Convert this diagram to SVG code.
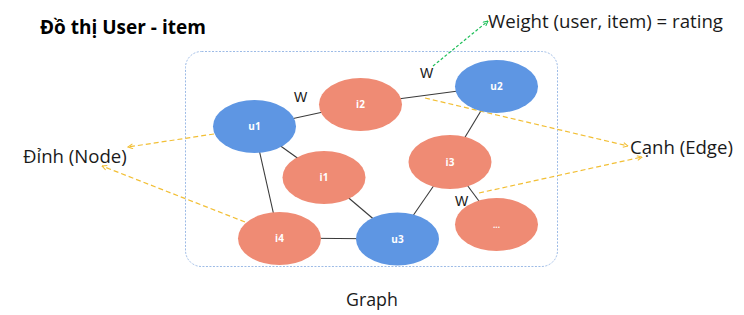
<svg xmlns="http://www.w3.org/2000/svg" width="744" height="315" viewBox="0 0 744 315">
  <defs>
    <style>
      .bg { fill: #ffffff; }
      .frame { fill: none; stroke: #9dbbe6; stroke-width: 1; stroke-dasharray: 2 1.5; }
      .user { fill: #5e96e3; }
      .item { fill: #ef8b74; }
      .nlabel { font-family: "Open Sans", "Liberation Sans", sans-serif; font-size: 10px; font-weight: bold; fill: #ffffff; text-anchor: middle; }
      .edge { stroke: #3a3a3a; stroke-width: 1.1; fill: none; }
      .note { stroke: #f2bf35; stroke-width: 1.2; stroke-dasharray: 5 3; fill: none; marker-end: url(#tipY); }
      .noteG { stroke: #1fbf5a; stroke-width: 1.2; stroke-dasharray: 3 2; fill: none; marker-end: url(#tipG); }
      .txt { font-family: "Open Sans", "Liberation Sans", sans-serif; fill: #1a1a1a; font-size: 18.6px; }
      .w { font-family: "Liberation Sans", sans-serif; font-size: 14px; fill: #1a1a1a; }
    </style>
    <marker id="tipY" viewBox="0 0 10 10" refX="9" refY="5" markerWidth="5" markerHeight="5" orient="auto">
      <path d="M1,1 L9,5 L1,9" fill="none" stroke="#f2bf35" stroke-width="1.8"/>
    </marker>
    <marker id="tipG" viewBox="0 0 10 10" refX="9" refY="5" markerWidth="5" markerHeight="5" orient="auto">
      <path d="M1,1 L9,5 L1,9" fill="none" stroke="#1fbf5a" stroke-width="1.8"/>
    </marker>
  </defs>

  <rect class="bg" x="0" y="0" width="744" height="315"/>

  <!-- graph boundary -->
  <rect class="frame" x="185.5" y="51.5" width="372" height="215" rx="16" ry="16"/>

  <!-- graph edges -->
  <g id="connectors">
    <line class="edge" x1="254" y1="127" x2="360" y2="104"/>
    <line class="edge" x1="360" y1="104" x2="496" y2="86"/>
    <line class="edge" x1="496" y1="86" x2="450" y2="162"/>
    <line class="edge" x1="254" y1="127" x2="324" y2="177"/>
    <line class="edge" x1="254" y1="127" x2="279" y2="238"/>
    <line class="edge" x1="324" y1="177" x2="397" y2="239"/>
    <line class="edge" x1="279" y1="238" x2="397" y2="239"/>
    <line class="edge" x1="450" y1="162" x2="397" y2="239"/>
    <line class="edge" x1="450" y1="162" x2="496" y2="224"/>

    <!-- annotation arrows -->
    <line class="note" x1="214" y1="134" x2="128" y2="147"/>
    <line class="note" x1="245" y1="222" x2="102" y2="166"/>
    <line class="note" x1="425" y1="98" x2="628" y2="146"/>
    <line class="note" x1="479" y1="193" x2="642" y2="157"/>
    <line class="noteG" x1="433" y1="66" x2="488" y2="21"/>
  </g>

  <!-- nodes -->
  <g id="u1"><ellipse class="user" cx="254.5" cy="126.5" rx="41.5" ry="26.5"/><text class="nlabel" x="254.5" y="130">u1</text></g>
  <g id="i2"><ellipse class="item" cx="360.5" cy="104.5" rx="41.5" ry="26.5"/><text class="nlabel" x="360.5" y="108">i2</text></g>
  <g id="u2"><ellipse class="user" cx="496.5" cy="86.5" rx="41.5" ry="26.5"/><text class="nlabel" x="496.5" y="90">u2</text></g>
  <g id="i3"><ellipse class="item" cx="450" cy="162" rx="41.5" ry="27"/><text class="nlabel" x="450" y="165.5">i3</text></g>
  <g id="i1"><ellipse class="item" cx="324" cy="177.5" rx="41.5" ry="26.5"/><text class="nlabel" x="324" y="181">i1</text></g>
  <g id="i4"><ellipse class="item" cx="279.5" cy="238.5" rx="41.5" ry="26.5"/><text class="nlabel" x="279.5" y="242">i4</text></g>
  <g id="u3"><ellipse class="user" cx="397.5" cy="239" rx="41.5" ry="26.5"/><text class="nlabel" x="397.5" y="242.5">u3</text></g>
  <g id="more"><ellipse class="item" cx="496.5" cy="224.5" rx="41.5" ry="26.5"/><text class="nlabel" x="496.5" y="228" style="font-size:8px">...</text></g>

  <!-- weight labels -->
  <text class="w" x="294" y="102">W</text>
  <text class="w" x="420" y="78">W</text>
  <text class="w" x="455" y="206">W</text>

  <!-- titles and captions -->
  <text class="txt" x="40" y="34" style="font-size:19px;font-weight:bold;fill:#000">Đồ thị User - item</text>
  <text class="txt" x="488" y="28" textLength="235" lengthAdjust="spacingAndGlyphs">Weight (user, item) = rating</text>
  <text class="txt" x="630" y="154">Cạnh (Edge)</text>
  <text class="txt" x="23" y="163">Đỉnh (Node)</text>
  <text class="txt" x="346" y="306" style="font-size:17.8px">Graph</text>
</svg>
